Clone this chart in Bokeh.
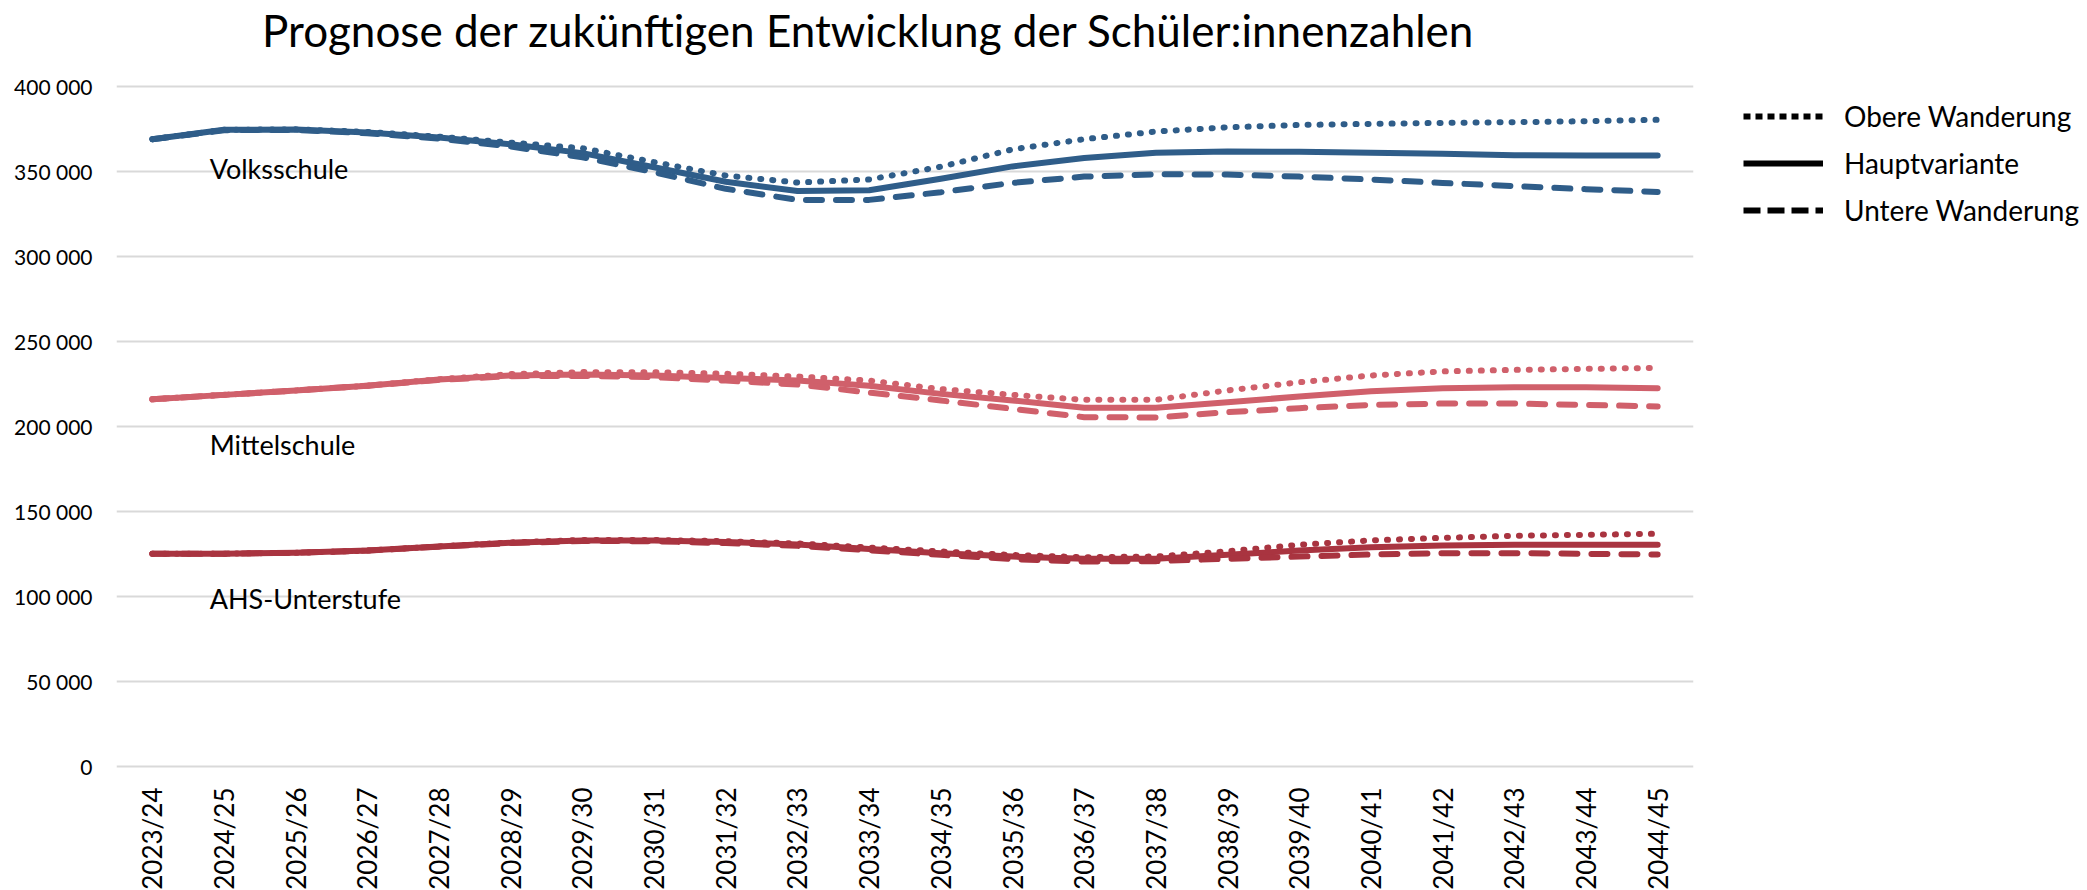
import math
from bokeh.plotting import figure
from bokeh.models import (FactorRange, Range1d, FixedTicker, CustomJSTickFormatter,
                          Legend, LegendItem, Label)
from bokeh.embed import file_html
from bokeh.resources import INLINE

# ---------------- data ----------------
years = ["2023/24", "2024/25", "2025/26", "2026/27", "2027/28", "2028/29", "2029/30",
         "2030/31", "2031/32", "2032/33", "2033/34", "2034/35", "2035/36", "2036/37",
         "2037/38", "2038/39", "2039/40", "2040/41", "2041/42", "2042/43", "2043/44",
         "2044/45"]

vs_haupt = [369.0, 374.5, 374.7, 373.0, 370.0, 366.0, 360.8, 352.5, 344.0, 338.5, 339.0,
            345.7, 353.0, 358.0, 361.0, 361.8, 361.6, 361.0, 360.4, 359.6, 359.4, 359.4]
vs_obere = [369.0, 374.5, 374.8, 373.3, 370.5, 367.0, 363.7, 355.5, 347.6, 343.5, 345.3,
            352.8, 363.0, 369.0, 373.5, 376.0, 377.4, 378.0, 378.6, 379.0, 379.6, 380.4]
vs_untere = [369.0, 374.3, 374.5, 372.5, 369.3, 364.7, 358.4, 349.6, 339.8, 333.3, 333.3,
             337.8, 343.3, 347.0, 348.4, 348.2, 347.0, 345.3, 343.3, 341.4, 339.6, 338.0]

ms_haupt = [216.0, 218.6, 221.2, 224.0, 227.6, 230.0, 230.6, 230.0, 228.6, 227.0, 224.0,
            219.2, 215.3, 211.0, 211.0, 214.3, 217.6, 220.8, 222.5, 223.1, 223.1, 222.5]
ms_obere = [216.0, 218.6, 221.2, 224.0, 227.8, 230.8, 232.0, 231.9, 231.0, 229.4, 227.0,
            222.0, 218.6, 215.7, 215.7, 221.2, 226.0, 230.0, 232.4, 233.3, 233.9, 234.5]
ms_untere = [216.0, 218.6, 221.2, 224.0, 227.4, 229.6, 229.8, 229.0, 227.0, 224.7, 220.0,
             215.3, 210.4, 205.5, 205.3, 208.4, 210.8, 212.7, 213.5, 213.5, 212.7, 211.8]

ahs_haupt = [125.1, 125.2, 125.7, 127.0, 129.4, 131.6, 133.0, 133.0, 132.0, 130.6, 128.0,
             125.5, 123.5, 122.2, 122.2, 124.5, 127.0, 129.0, 130.0, 130.4, 130.4, 130.4]
ahs_obere = [125.1, 125.2, 125.7, 127.0, 129.5, 131.8, 133.3, 133.3, 132.5, 131.2, 128.8,
             126.5, 124.4, 123.1, 123.5, 126.6, 130.4, 133.0, 134.5, 135.7, 136.3, 136.9]
ahs_untere = [125.1, 125.2, 125.7, 127.0, 129.3, 131.4, 132.7, 132.5, 131.4, 129.8, 127.2,
              124.5, 122.0, 120.6, 120.8, 122.2, 123.5, 124.7, 125.5, 125.5, 125.1, 124.7]

y_ticks = [0, 50000, 100000, 150000, 200000, 250000, 300000, 350000, 400000]

title_text = "Prognose der zukünftigen Entwicklung der Schüler:innenzahlen"
legend_labels = ["Obere Wanderung", "Hauptvariante", "Untere Wanderung"]
school_labels = ["Volksschule", "Mittelschule", "AHS-Unterstufe"]
school_label_y = [351700, 189700, 98700]

# ---------------- style ----------------
FONT = "Lato"
C_VS = "#2F5D89"
C_MS = "#D0606B"
C_AHS = "#A93440"
GRID = "#D9D9D9"
LW = 6
DOT = "1 11"
DASH = "16 14"

p = figure(width=2087, height=890, output_backend="svg", toolbar_location=None,
           x_range=FactorRange(*years, range_padding=0),
           y_range=Range1d(-2353, 450588),
           frame_width=1577, frame_height=770,
           min_border_left=116, min_border_right=394, min_border_top=0,
           min_border_bottom=120)
p.title = None
p.outline_line_color = None
p.background_fill_color = "white"
p.border_fill_color = "white"

p.xgrid.visible = False
p.ygrid.grid_line_color = GRID
p.ygrid.grid_line_width = 2
p.yaxis.ticker = FixedTicker(ticks=y_ticks)
p.yaxis.formatter = CustomJSTickFormatter(code="""
    if (tick == 0) { return "0"; }
    return (tick/1000).toFixed(0) + " 000";
""")
for ax in (p.xaxis, p.yaxis):
    ax.axis_line_color = None
    ax.major_tick_line_color = None
    ax.minor_tick_line_color = None
    ax.major_tick_out = 0
    ax.major_tick_in = 0
    ax.major_label_text_font = FONT
    ax.major_label_text_color = "black"
p.yaxis.major_label_text_font_size = "21px"
p.yaxis.major_label_standoff = 24
p.xaxis.major_label_text_font_size = "26px"
p.xaxis.major_label_orientation = math.pi / 2
p.xaxis.major_label_standoff = 17

def k(vals):
    return [v * 1000 for v in vals]

series = [
    (vs_obere, C_VS, DOT), (vs_haupt, C_VS, "solid"), (vs_untere, C_VS, DASH),
    (ms_obere, C_MS, DOT), (ms_haupt, C_MS, "solid"), (ms_untere, C_MS, DASH),
    (ahs_obere, C_AHS, DOT), (ahs_haupt, C_AHS, "solid"), (ahs_untere, C_AHS, DASH),
]
for vals, col, dash in series:
    p.line(x=years, y=k(vals), line_color=col, line_width=LW, line_dash=dash,
           line_cap="round", line_join="round")

# legend (black dummy lines)
nan = float("nan")
r_ob = p.line(x=[years[0]], y=[nan], line_color="black", line_width=6, line_dash="7 5")
r_hv = p.line(x=[years[0]], y=[nan], line_color="black", line_width=6)
r_un = p.line(x=[years[0]], y=[nan], line_color="black", line_width=6, line_dash="17 7")
legend = Legend(items=[LegendItem(label=legend_labels[0], renderers=[r_ob]),
                       LegendItem(label=legend_labels[1], renderers=[r_hv]),
                       LegendItem(label=legend_labels[2], renderers=[r_un])],
                location=(50, 540), orientation="vertical", margin=0,
                glyph_width=80, glyph_height=40, label_height=40, label_standoff=21,
                spacing=7, padding=5, border_line_color=None, background_fill_alpha=0,
                label_text_font=FONT, label_text_font_size="28px", label_text_color="black")
p.add_layout(legend, "right")

# school labels
for txt, yv in zip(school_labels, school_label_y):
    p.add_layout(Label(x=1.30, y=yv, text=txt, text_font=FONT, text_font_size="27px",
                       text_color="black", text_baseline="alphabetic", text_align="left"))

# title (inside the upper, empty part of the frame)
p.add_layout(Label(x=2.03, y=433300, text=title_text, text_font=FONT,
                   text_font_size="44px", text_color="black",
                   text_baseline="alphabetic", text_align="left"))

open("out.html", "w").write(file_html(p, INLINE))
